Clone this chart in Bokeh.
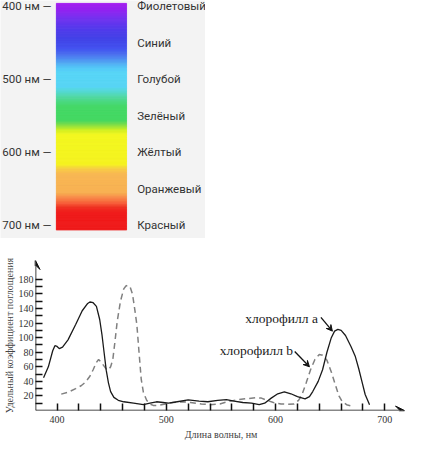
from bokeh.plotting import figure
from bokeh.layouts import column, row
from bokeh.models import Range1d, FixedTicker, Arrow, VeeHead, Label, ColumnDataSource
from bokeh.embed import file_html
from bokeh.resources import INLINE
import numpy as np

# ---------------- data ----------------
# Spectrum panel
scale_nm = [400, 500, 600, 700]
scale_labels = ["400 нм —", "500 нм —", "600 нм —", "700 нм —"]
color_nm = [400, 450, 500, 550, 600, 650, 700]
color_names = ["Фиолетовый", "Синий", "Голубой", "Зелёный", "Жёлтый", "Оранжевый", "Красный"]
# gradient colour stops (nm, colour)
stop_nm = [396, 405, 418, 432, 445, 458, 467, 478, 485, 491, 511, 518, 524, 531, 538,
           557, 564, 570, 577, 617, 623, 630, 656, 663, 670, 676, 683, 707]
stop_col = ["#a41cf0", "#9420f0", "#7030f0", "#5038ec", "#4040e8", "#4050f0", "#4a70f0",
            "#50a8f4", "#52c8f8", "#55d5f8", "#55d5f5", "#52d8d0", "#50d8a8", "#48d880",
            "#42d865", "#42d860", "#88e040", "#d0f020", "#f4f81c", "#f6f41c", "#f8d040",
            "#f8b850", "#f8b050", "#f88848", "#f86038", "#f03020", "#f01818", "#f01818"]

# Absorption chart
chl_a_wl = [387.6, 392, 396, 398, 400, 402, 405, 410, 417, 423, 428, 430, 433, 436, 439, 441,
            443, 445, 447, 449, 452, 456, 461, 470, 479, 485, 491, 497, 502, 510, 520, 530,
            538, 547, 555, 562, 570, 578, 585, 590, 596, 602, 608, 614, 620, 627, 631, 634,
            639, 643, 647, 651, 654, 657, 660, 664, 669, 673, 676, 679, 682, 686]
chl_a_val = [45, 60, 82, 89, 88, 85, 87, 97, 118, 137, 147, 149, 148, 143, 125, 105,
             80, 55, 38, 26, 18, 14, 12, 10, 8, 10, 12, 11, 10, 12, 14.5, 13,
             12, 14, 15, 13, 11, 10, 8, 10, 17, 23, 25.5, 23, 19, 16, 19, 26,
             40, 56, 80, 100, 109, 111.5, 110, 103, 88, 74, 58, 40, 22, 8]
chl_b_wl = [403.8, 410, 417, 422, 426, 430, 433, 436, 438, 440, 442, 445, 447, 449, 451, 453,
            455, 458, 461, 463, 465, 467, 469, 471, 473, 475, 477, 479, 482, 485, 488, 493,
            499, 506, 514, 522, 532, 540, 549, 556, 564, 572, 582, 587, 591, 598, 605, 611,
            617, 621, 624, 628, 632, 636, 640, 643, 647, 651, 655, 658, 661, 665, 670]
chl_b_val = [22.5, 25, 30, 34, 39, 47, 56, 66, 70, 67, 63, 57, 56, 60, 70, 95,
             122, 150, 167, 171, 172, 169, 160, 140, 118, 80, 43, 25, 14, 9, 7, 7,
             9, 11, 12, 11, 9, 8, 9, 12, 14.5, 16, 17.6, 17, 14.5, 11, 9, 8.5,
             9, 14, 21, 38, 56, 70, 77, 76, 69, 53, 34, 20, 12, 8, 6]
x_major = [400, 500, 600, 700]
x_minor = [420, 440, 460, 480, 520, 540, 560, 580, 620, 640, 660, 680]
y_major = [20, 40, 60, 80, 100, 120, 140, 160, 180]
y_minor = [10, 30, 50, 70, 90, 110, 130, 150, 170]
label_a = "хлорофилл a"
label_b = "хлорофилл b"

# ---------------- layout constants ----------------
S = 0.964          # overall scale so the page fits the window
W = 427            # page content width
L = 34             # left border of the chart (y-axis position)
FR = 405           # right edge of the chart frame
GRAY = "#f3f3f3"

# ---------------- top: spectrum ----------------
top = figure(frame_width=round(213 * S), frame_height=238,
             min_border_left=0, min_border_right=0, min_border_top=0, min_border_bottom=0,
             x_range=Range1d(0, 213), y_range=Range1d(718.5, 392.1),
             x_axis_location=None, y_axis_location=None,
             output_backend="svg", toolbar_location=None)
top.grid.visible = False
top.outline_line_color = None
top.background_fill_color = GRAY
top.border_fill_color = GRAY

def hex2rgb(h):
    return [int(h[i:i + 2], 16) for i in (1, 3, 5)]

rgb = np.array([hex2rgb(c) for c in stop_col], dtype=float)
nm = np.arange(396, 707, 1.0)
cols = []
for v in nm:
    r = np.interp(v + 0.5, stop_nm, rgb[:, 0])
    g = np.interp(v + 0.5, stop_nm, rgb[:, 1])
    b = np.interp(v + 0.5, stop_nm, rgb[:, 2])
    cols.append("#%02x%02x%02x" % (int(r), int(g), int(b)))
bar_src = ColumnDataSource(dict(bottom=nm, top=nm + 1, c=cols))
top.quad(left=58, right=131, bottom="bottom", top="top", fill_color="c", line_color="c",
         line_width=0.6, source=bar_src)

for v, t in zip(scale_nm, scale_labels):
    top.add_layout(Label(x=53, y=v, text=t, text_align="right", text_baseline="middle",
                         text_font="Roboto", text_font_size="11.5px", text_color="#333333"))
for v, t in zip(color_nm, color_names):
    top.add_layout(Label(x=142, y=v, text=t, text_align="left", text_baseline="middle",
                         text_font="Roboto", text_font_size="11.5px", text_color="#333333"))

# ---------------- bottom: absorption chart ----------------
X0_REF = 35.0        # reference x of 380 nm
PX_NM = 1.1333       # reference pixels per nm
wl_left = 380 + (L / S - X0_REF) / PX_NM
wl_right = 380 + (FR / S - X0_REF) / PX_NM

SERIF = "Liberation Serif"
bot = figure(frame_width=FR - L, frame_height=150,
             x_range=Range1d(wl_left, wl_right), y_range=Range1d(0, 206),
             min_border_left=L, min_border_right=W - FR, min_border_top=22, min_border_bottom=37,
             output_backend="svg", toolbar_location=None)
bot.grid.visible = False
bot.outline_line_color = None
bot.background_fill_color = "white"
bot.border_fill_color = "white"

xa = bot.xaxis[0]
xa.ticker = FixedTicker(ticks=x_major, minor_ticks=x_minor)
ya = bot.yaxis[0]
ya.ticker = FixedTicker(ticks=y_major, minor_ticks=y_minor)
for ax in (xa, ya):
    ax.axis_line_color = None
    ax.major_tick_in = 7
    ax.major_tick_out = 0
    ax.minor_tick_in = 7
    ax.minor_tick_out = 0
    ax.major_tick_line_color = "#111111"
    ax.minor_tick_line_color = "#111111"
    ax.major_tick_line_width = 1.5
    ax.minor_tick_line_width = 1.5
    ax.major_label_text_font = SERIF
    ax.major_label_text_color = "#333333"
    ax.axis_label_text_font = SERIF
    ax.axis_label_text_font_style = "normal"
    ax.axis_label_text_color = "#444444"
    ax.axis_label_text_font_size = "10px"
xa.major_label_text_font_size = "10px"
ya.major_label_text_font_size = "10px"
xa.major_label_standoff = 5
xa.axis_label_standoff = 3
ya.major_label_standoff = 2
ya.axis_label_standoff = 1
xa.axis_label = "Длина волны, нм"
ya.axis_label = "Удельный коэффициент поглощения"

# axis lines with arrow heads
bot.add_layout(Arrow(end=VeeHead(size=9, fill_color="#111111", line_color="#111111"),
                     x_start=wl_left, y_start=0, x_end=718, y_end=0,
                     line_color="#111111", line_width=1.6))
bot.add_layout(Arrow(end=VeeHead(size=9, fill_color="#111111", line_color="#111111"),
                     x_start=wl_left, y_start=0, x_end=wl_left, y_end=206,
                     line_color="#111111", line_width=1.6))

bot.line(chl_b_wl, chl_b_val, line_color="#808080", line_width=1.5, line_dash="6 4")
bot.line(chl_a_wl, chl_a_val, line_color="#1a1a1a", line_width=1.3)

bot.add_layout(Label(x=638.7, y=127, text=label_a, text_align="right", text_baseline="middle",
                     text_font=SERIF, text_font_size="13.5px", text_color="#1a1a1a"))
bot.add_layout(Label(x=616, y=83, text=label_b, text_align="right", text_baseline="middle",
                     text_font=SERIF, text_font_size="13.5px", text_color="#1a1a1a"))
bot.add_layout(Arrow(end=VeeHead(size=6, fill_color="#111111", line_color="#111111"),
                     x_start=641.5, y_start=128, x_end=652, y_end=109,
                     line_color="#111111", line_width=1.3))
bot.add_layout(Arrow(end=VeeHead(size=6, fill_color="#111111", line_color="#111111"),
                     x_start=617.5, y_start=81, x_end=631, y_end=60,
                     line_color="#111111", line_width=1.3))

layout = column(row(top, spacing=0), bot, spacing=0)
open("out.html", "w").write(file_html(layout, INLINE))
